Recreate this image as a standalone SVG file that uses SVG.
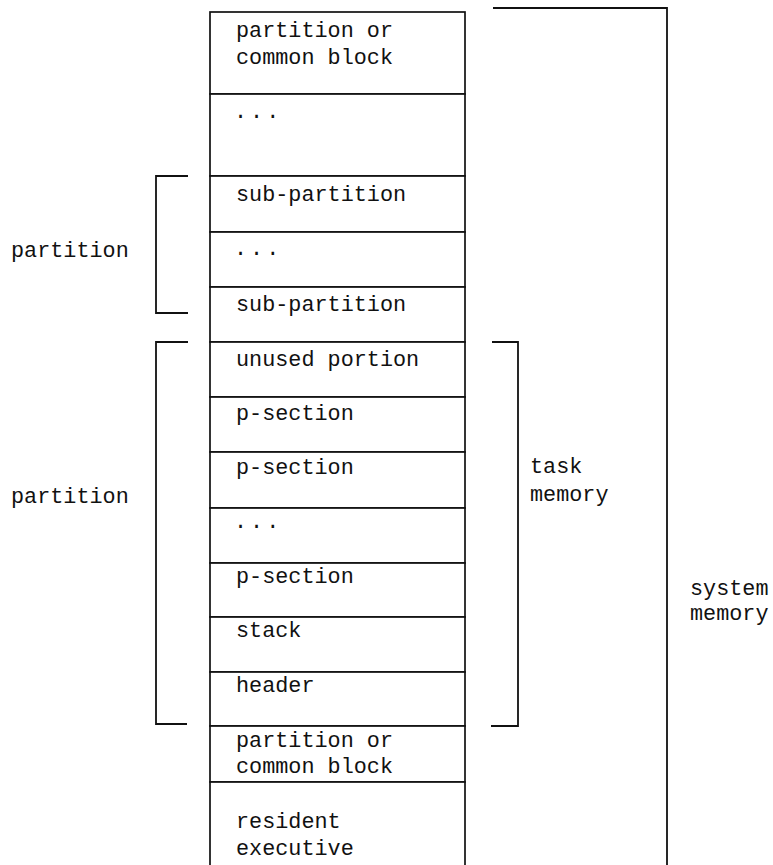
<svg xmlns="http://www.w3.org/2000/svg" width="773" height="865" viewBox="0 0 773 865">
<style>
.box{fill:#fff;stroke:#111;stroke-width:1.7}
.br{fill:none;stroke:#111;stroke-width:1.8}
text{font-family:"Liberation Mono","DejaVu Sans Mono",monospace;font-size:21.8px;fill:#111}
.dots{letter-spacing:3px}
</style>
<rect width="773" height="865" fill="#fff"/>
<g id="rows">
<g id="row1"><rect class="box" x="210" y="12" width="255" height="82"/><text x="236" y="37">partition or</text><text x="236" y="64">common block</text></g>
<g id="row2"><rect class="box" x="210" y="94" width="255" height="82"/><text class="dots" x="234" y="118">...</text></g>
<g id="row3"><rect class="box" x="210" y="176" width="255" height="56"/><text x="236" y="201">sub-partition</text></g>
<g id="row4"><rect class="box" x="210" y="232" width="255" height="55"/><text class="dots" x="234" y="255">...</text></g>
<g id="row5"><rect class="box" x="210" y="287" width="255" height="55"/><text x="236" y="311">sub-partition</text></g>
<g id="row6"><rect class="box" x="210" y="342" width="255" height="55"/><text x="236" y="366">unused portion</text></g>
<g id="row7"><rect class="box" x="210" y="397" width="255" height="55"/><text x="236" y="420">p-section</text></g>
<g id="row8"><rect class="box" x="210" y="452" width="255" height="56"/><text x="236" y="474">p-section</text></g>
<g id="row9"><rect class="box" x="210" y="508" width="255" height="55"/><text class="dots" x="234" y="528">...</text></g>
<g id="row10"><rect class="box" x="210" y="563" width="255" height="54"/><text x="236" y="583">p-section</text></g>
<g id="row11"><rect class="box" x="210" y="617" width="255" height="55"/><text x="236" y="637">stack</text></g>
<g id="row12"><rect class="box" x="210" y="672" width="255" height="54"/><text x="236" y="692">header</text></g>
<g id="row13"><rect class="box" x="210" y="726" width="255" height="56"/><text x="236" y="747">partition or</text><text x="236" y="773">common block</text></g>
<g id="row14"><rect class="box" x="210" y="782" width="255" height="95"/><text x="236" y="828">resident</text><text x="236" y="855">executive</text></g>
</g>
<g id="brackets">
<path class="br" d="M188,176 H156 V313 H188"/>
<path class="br" d="M188,342 H156 V724 H187"/>
<path class="br" d="M492,342 H518 V726 H491"/>
<path class="br" d="M493,8 H667 V870"/>
</g>
<g id="labels">
<text x="11" y="257">partition</text>
<text x="11" y="503">partition</text>
<text x="530" y="473">task</text>
<text x="530" y="501">memory</text>
<text x="690" y="595">system</text>
<text x="690" y="620">memory</text>
</g>
</svg>
